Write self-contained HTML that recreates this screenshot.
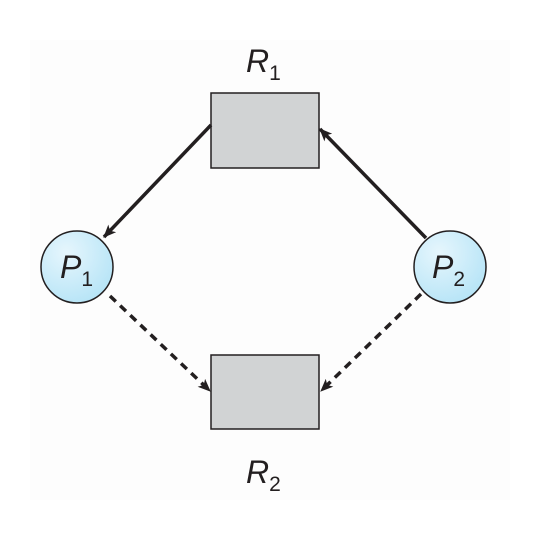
<!DOCTYPE html>
<html><head><meta charset="utf-8"><style>
html,body{margin:0;padding:0;background:#fff;}
svg{display:block;}
text{font-family:"Liberation Sans",sans-serif;fill:#231f20;}
</style></head><body>
<svg width="540" height="534" viewBox="0 0 540 534">
<defs>
<radialGradient id="pg" cx="0.35" cy="0.3" r="0.8">
<stop offset="0" stop-color="#e6f6fd"/><stop offset="1" stop-color="#b3e3f6"/>
</radialGradient>
<marker id="ah" viewBox="0 0 12 10" refX="11" refY="5" markerWidth="13" markerHeight="11" markerUnits="userSpaceOnUse" orient="auto">
<path d="M0,0 L12,5 L0,10 L3,5 Z" fill="#231f20"/>
</marker>
</defs>
<rect x="30" y="40" width="480" height="460" fill="#fdfdfd"/>
<rect x="211" y="93" width="108" height="75" fill="#d1d3d4" stroke="#231f20" stroke-width="1.5"/>
<rect x="211" y="355" width="108" height="74" fill="#d1d3d4" stroke="#231f20" stroke-width="1.5"/>
<line x1="211" y1="125" x2="104" y2="237" stroke="#231f20" stroke-width="3.5" marker-end="url(#ah)"/>
<line x1="426" y1="238" x2="320" y2="129" stroke="#231f20" stroke-width="3.5" marker-end="url(#ah)"/>
<line x1="110" y1="296" x2="210" y2="391" stroke="#231f20" stroke-width="3.5" stroke-dasharray="8,6" marker-end="url(#ah)"/>
<line x1="421" y1="294" x2="321" y2="391" stroke="#231f20" stroke-width="3.5" stroke-dasharray="8,6" marker-end="url(#ah)"/>
<circle cx="77" cy="267" r="36" fill="url(#pg)" stroke="#231f20" stroke-width="1.5"/>
<circle cx="450" cy="267" r="36" fill="url(#pg)" stroke="#231f20" stroke-width="1.5"/>
<text x="60" y="278" font-size="32" font-style="italic">P<tspan font-size="21" font-style="normal" dy="8">1</tspan></text>
<text x="432" y="278" font-size="32" font-style="italic">P<tspan font-size="21" font-style="normal" dy="8">2</tspan></text>
<text x="246" y="72" font-size="32" font-style="italic">R<tspan font-size="21" font-style="normal" dy="8">1</tspan></text>
<text x="246" y="483" font-size="32" font-style="italic">R<tspan font-size="21" font-style="normal" dy="8">2</tspan></text>
</svg>
</body></html>
